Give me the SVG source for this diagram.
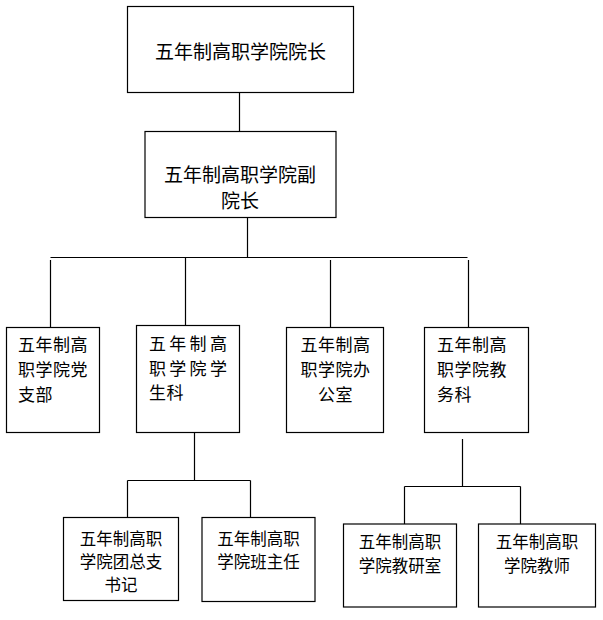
<svg xmlns="http://www.w3.org/2000/svg" width="603" height="620" viewBox="0 0 603 620">
<style>
.box{fill:#fff;stroke:#000;stroke-width:1.2}
.ln{fill:none;stroke:#000;stroke-width:1.2}
text{font-family:"Noto Sans CJK SC","Noto Sans",sans-serif;fill:#000}
.big{font-size:19px}
.mid{font-size:17px;letter-spacing:0.5px}
.sm{font-size:16.5px}
.c{text-anchor:middle}
</style>
<rect width="603" height="620" fill="#fff"/>
<g id="connectors">
<path class="ln" d="M239.5 92V131"/>
<path class="ln" d="M247.5 217V257.5"/>
<path class="ln" d="M50.5 257.5H467.5"/>
<path class="ln" d="M50.5 260V327M185.5 257.5V325M330.5 260V327M468.5 260V327"/>
<path class="ln" d="M194.5 432V480.5M127.5 480.5H250.5M127.5 480.5V517M250.5 480.5V517"/>
<path class="ln" d="M462.5 439V486.5M404.5 486.5H520.5M404.5 486.5V524M520.5 486.5V524"/>
</g>
<g id="n1">
<rect class="box" x="127.5" y="6.5" width="226" height="86"/>
<text class="big c" x="240.5" y="58.5">五年制高职学院院长</text>
</g>
<g id="n2">
<rect class="box" x="145" y="131.5" width="191" height="86"/>
<text class="big c" x="240" y="182">五年制高职学院副</text>
<text class="big c" x="240" y="207.5">院长</text>
</g>
<g id="n3">
<rect class="box" x="6.5" y="327.5" width="93" height="105"/>
<text class="mid" x="18" y="351">五年制高</text>
<text class="mid" x="18" y="376">职学院党</text>
<text class="mid" x="18" y="401">支部</text>
</g>
<g id="n4">
<rect class="box" x="136.5" y="325.5" width="103" height="107"/>
<text class="mid" x="149 169.3 189.6 210" y="350">五年制高</text>
<text class="mid" x="149 169.3 189.6 210" y="375">职学院学</text>
<text class="mid" x="149" y="399">生科</text>
</g>
<g id="n5">
<rect class="box" x="286.5" y="327.5" width="97" height="105"/>
<text class="mid c" x="335.5" y="351">五年制高</text>
<text class="mid c" x="335.5" y="376">职学院办</text>
<text class="mid c" x="335.5" y="401">公室</text>
</g>
<g id="n6">
<rect class="box" x="424.5" y="327.5" width="104" height="105"/>
<text class="mid" x="437" y="351">五年制高</text>
<text class="mid" x="437" y="376">职学院教</text>
<text class="mid" x="437" y="401">务科</text>
</g>
<g id="n7">
<rect class="box" x="63.5" y="517.5" width="115" height="83"/>
<text class="sm c" x="121" y="544.5">五年制高职</text>
<text class="sm c" x="121" y="567.5">学院团总支</text>
<text class="sm c" x="121" y="591">书记</text>
</g>
<g id="n8">
<rect class="box" x="202" y="517.5" width="113" height="84"/>
<text class="sm c" x="258.5" y="544.5">五年制高职</text>
<text class="sm c" x="258.5" y="567.5">学院班主任</text>
</g>
<g id="n9">
<rect class="box" x="343.5" y="524" width="113" height="83"/>
<text class="sm c" x="400" y="548">五年制高职</text>
<text class="sm c" x="400" y="572">学院教研室</text>
</g>
<g id="n10">
<rect class="box" x="478.5" y="524" width="117" height="83"/>
<text class="sm c" x="537" y="548">五年制高职</text>
<text class="sm c" x="537" y="572">学院教师</text>
</g>
</svg>
